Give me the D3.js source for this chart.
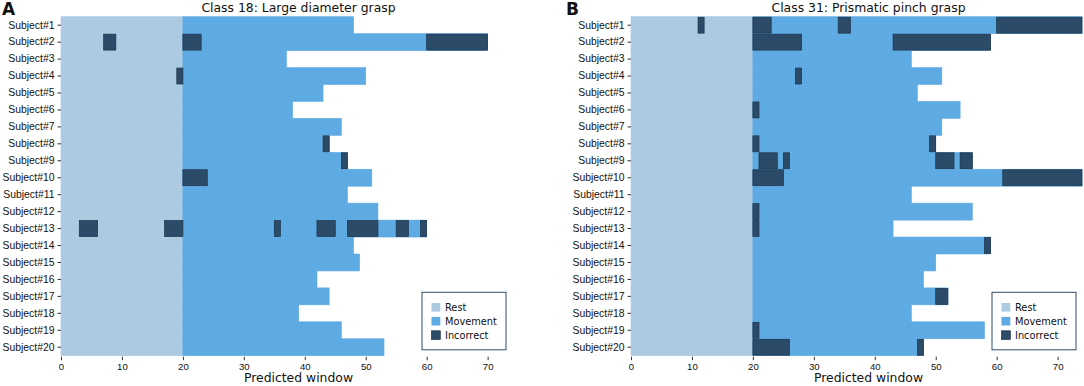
<!DOCTYPE html>
<html>
<head>
<meta charset="utf-8">
<script src="https://cdn.jsdelivr.net/npm/d3@7"></script>
<style>
  body { margin: 0; background: #fff; }
  svg { display: block; font-family: "DejaVu Sans", sans-serif; }
  .tick line { stroke: #333; }
  .tick text { fill: #111; }
</style>
</head>
<body>
<div class="content"></div>
<script>
var subjects = ["Subject#1", "Subject#2", "Subject#3", "Subject#4", "Subject#5",
  "Subject#6", "Subject#7", "Subject#8", "Subject#9", "Subject#10",
  "Subject#11", "Subject#12", "Subject#13", "Subject#14", "Subject#15",
  "Subject#16", "Subject#17", "Subject#18", "Subject#19", "Subject#20"];

var xTicks = [0, 10, 20, 30, 40, 50, 60, 70];
var legendLabels = ["Rest", "Movement", "Incorrect"];

// rest window ends at 20 for every subject
var restEnd = 20;

// class 18 : last predicted window + misclassified windows
var endA = [48, 70, 37, 50, 43, 38, 46, 44, 47, 51, 47, 52, 60, 48, 49, 42, 44, 39, 46, 53];
var wrongA = [
  [], [[7, 9], [20, 23], [60, 70]], [], [[19, 20]], [], [], [], [[43, 44]], [[46, 47]], [[20, 24]],
  [], [], [[3, 6], [17, 20], [35, 36], [42, 45], [47, 52], [55, 57], [59, 60]], [], [], [], [], [], [], []
];

// class 31
var endB = [74, 59, 46, 51, 47, 54, 51, 50, 56, 74, 46, 56, 43, 59, 50, 48, 52, 46, 58, 48];
var wrongB = [
  [[11, 12], [20, 23], [34, 36], [60, 74]], [[20, 28], [43, 59]], [], [[27, 28]], [], [[20, 21]], [],
  [[20, 21], [49, 50]], [[21, 24], [25, 26], [50, 53], [54, 56]], [[20, 25], [61, 74]],
  [], [[20, 21]], [[20, 21]], [[58, 59]], [], [], [[50, 52]], [], [[20, 21]], [[20, 26], [47, 48]]
];

var colors = { rest: "#adcae3", move: "#5eaae2", wrong: "#2b4b69" };

var width = 1084, height = 386;
var svg = d3.select(".content").append("svg")
  .attr("width", width)
  .attr("height", height);

var panels = [
  { letter: "A", title: "Class 18: Large diameter grasp", end: endA, wrong: wrongA, left: 61, right: 512, letterX: 2 },
  { letter: "B", title: "Class 31: Prismatic pinch grasp", end: endB, wrong: wrongB, left: 631, right: 1082, letterX: 566 }
];

var plotTop = 16.7, plotBottom = 355.7;

panels.forEach(function (p) {
  var x = d3.scaleLinear().domain([0, 74]).range([p.left, p.right]);
  var y = d3.scaleBand().domain(subjects).range([plotTop, plotBottom]).padding(0);
  var mid = (p.left + p.right) / 2 + 12;

  var g = svg.append("g");

  // rest
  g.selectAll(".rest")
    .data(subjects)
    .enter().append("rect")
    .attr("class", "rest")
    .attr("x", x(0))
    .attr("y", function (d) { return y(d); })
    .attr("width", x(restEnd) - x(0))
    .attr("height", y.bandwidth())
    .attr("fill", colors.rest)
    .attr("stroke", colors.rest)
    .attr("stroke-width", 0.6);

  // movement
  g.selectAll(".move")
    .data(subjects)
    .enter().append("rect")
    .attr("class", "move")
    .attr("x", x(restEnd))
    .attr("y", function (d) { return y(d); })
    .attr("width", function (d, i) { return x(p.end[i]) - x(restEnd); })
    .attr("height", y.bandwidth())
    .attr("fill", colors.move)
    .attr("stroke", colors.move)
    .attr("stroke-width", 0.6);

  // incorrect windows
  var segs = [];
  p.wrong.forEach(function (list, i) {
    list.forEach(function (s) { segs.push({ subj: subjects[i], a: s[0], b: s[1] }); });
  });
  g.selectAll(".wrong")
    .data(segs)
    .enter().append("rect")
    .attr("class", "wrong")
    .attr("x", function (d) { return x(d.a); })
    .attr("y", function (d) { return y(d.subj) + 0.5; })
    .attr("width", function (d) { return x(d.b) - x(d.a); })
    .attr("height", y.bandwidth() - 1)
    .attr("fill", colors.wrong)
    .attr("stroke", "#1c3349")
    .attr("stroke-width", 0.7);

  // axes, no spines
  var yAxis = svg.append("g")
    .attr("transform", "translate(" + p.left + ",0)")
    .call(d3.axisLeft(y).tickSize(3.5).tickPadding(3));
  yAxis.select(".domain").remove();
  yAxis.selectAll("text").style("font-size", "10.4px");

  var xAxis = svg.append("g")
    .attr("transform", "translate(0," + (plotBottom + 1) + ")")
    .call(d3.axisBottom(x).tickValues(xTicks).tickSize(3.5).tickPadding(2.5));
  xAxis.select(".domain").remove();
  xAxis.selectAll("text").style("font-size", "9.6px");

  svg.append("text")
    .attr("x", mid)
    .attr("y", 382)
    .attr("text-anchor", "middle")
    .style("font-size", "12.4px")
    .attr("fill", "#111")
    .text("Predicted window");

  svg.append("text")
    .attr("x", mid)
    .attr("y", 12)
    .attr("text-anchor", "middle")
    .style("font-size", "12.4px")
    .attr("fill", "#111")
    .text(p.title);

  svg.append("text")
    .attr("x", p.letterX)
    .attr("y", 15)
    .style("font-size", "17px")
    .style("font-weight", "bold")
    .attr("fill", "#111")
    .text(p.letter);

  // legend
  var lg = svg.append("g")
    .attr("transform", "translate(" + (p.right - 90) + ",292.3)");
  lg.append("rect")
    .attr("width", 84)
    .attr("height", 57.5)
    .attr("fill", "#fff")
    .attr("stroke", "#2f4d68")
    .attr("stroke-width", 1);
  var items = lg.selectAll(".item")
    .data(legendLabels)
    .enter().append("g")
    .attr("transform", function (d, i) { return "translate(9.5," + (15 + i * 13.9) + ")"; });
  items.append("rect")
    .attr("y", -4.3)
    .attr("width", 8.8)
    .attr("height", 8.6)
    .attr("fill", function (d, i) { return [colors.rest, colors.move, colors.wrong][i]; })
    .attr("stroke", function (d, i) { return i == 2 ? "#1c3349" : "none"; })
    .attr("stroke-width", 0.7);
  items.append("text")
    .attr("x", 13.5)
    .attr("dy", "0.35em")
    .style("font-size", "9.8px")
    .attr("fill", "#111")
    .text(function (d) { return d; });
});
</script>
</body>
</html>
